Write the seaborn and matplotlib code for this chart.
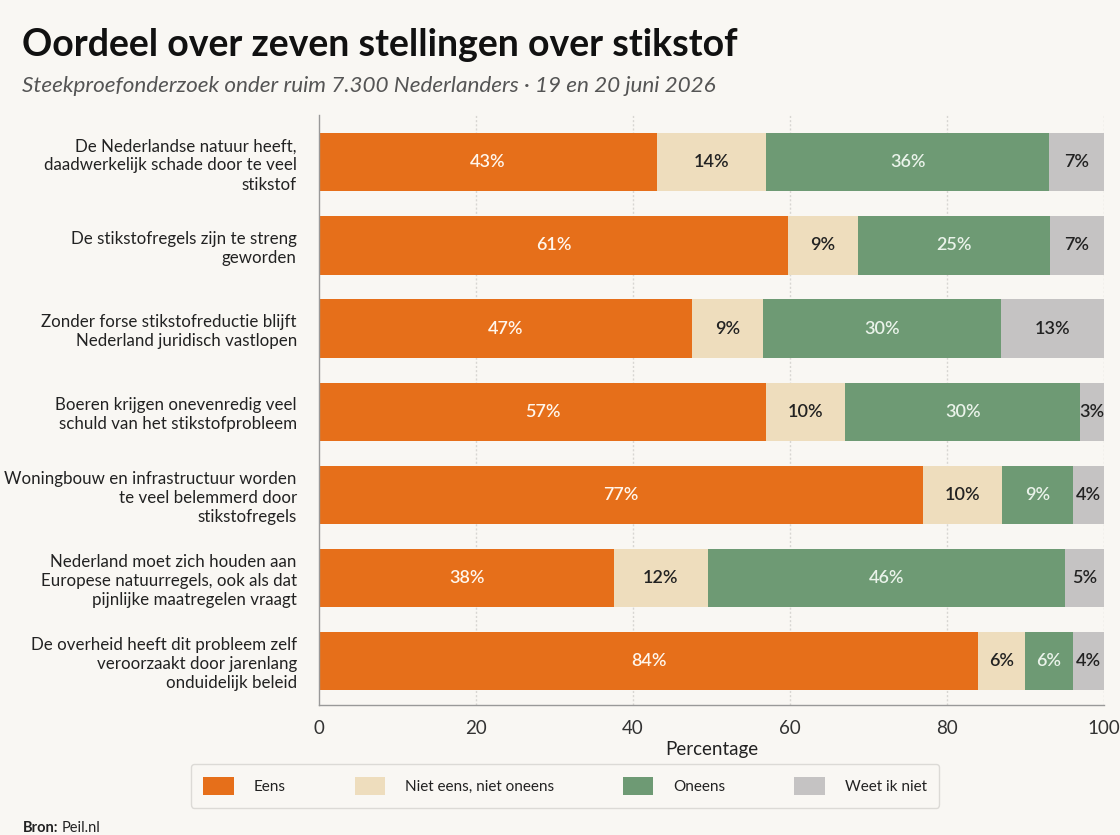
import numpy as np
import pandas as pd
import matplotlib
matplotlib.use("Agg")
import matplotlib.pyplot as plt
import seaborn as sns
from matplotlib.patches import Patch

# ---- data ----
statements = [
    "De Nederlandse natuur heeft,\ndaadwerkelijk schade door te veel\nstikstof",
    "De stikstofregels zijn te streng\ngeworden",
    "Zonder forse stikstofreductie blijft\nNederland juridisch vastlopen",
    "Boeren krijgen onevenredig veel\nschuld van het stikstofprobleem",
    "Woningbouw en infrastructuur worden\nte veel belemmerd door\nstikstofregels",
    "Nederland moet zich houden aan\nEuropese natuurregels, ook als dat\npijnlijke maatregelen vraagt",
    "De overheid heeft dit probleem zelf\nveroorzaakt door jarenlang\nonduidelijk beleid",
]
eens = [43, 61, 47, 57, 77, 38, 84]
neutraal = [14, 9, 9, 10, 10, 12, 6]
oneens = [36, 25, 30, 30, 9, 46, 6]
weet_niet = [7, 7, 13, 3, 4, 5, 4]
categories = ["Eens", "Niet eens, niet oneens", "Oneens", "Weet ik niet"]
x_ticks = [0, 20, 40, 60, 80, 100]

colors = ["#E66F1A", "#EEDDBD", "#6E9A74", "#C5C3C3"]
text_colors = ["#FFF6EC", "#222222", "#EAF3EA", "#222222"]
BG = "#F9F7F3"

df = pd.DataFrame({"stelling": statements, "Eens": eens,
                   "Niet eens, niet oneens": neutraal,
                   "Oneens": oneens, "Weet ik niet": weet_niet})
raw = df[categories].to_numpy(dtype=float)
share = raw / raw.sum(axis=1, keepdims=True) * 100
cum = np.cumsum(share, axis=1)

sns.set_theme(style="white")
plt.rcParams["font.family"] = ["Lato", "DejaVu Sans"]

fig = plt.figure(figsize=(11.2, 8.35), dpi=100, facecolor=BG)
ax = fig.add_axes([0.2848, 0.1557, 0.7009, 0.7066])
ax.set_facecolor(BG)

# vertical dotted grid
for t in x_ticks[1:]:
    ax.axvline(t, color="#D8D6D2", lw=1.0, ls=(0, (1.5, 1.5)), zorder=0)

# stacked bars: draw from the largest cumulative to the smallest
for j in range(len(categories) - 1, -1, -1):
    sns.barplot(x=cum[:, j], y=statements, color=colors[j], orient="h",
                width=0.7, ax=ax, saturation=1, zorder=2, linewidth=0)

# value labels
for i in range(len(statements)):
    left = 0
    for j in range(len(categories)):
        w = share[i, j]
        ax.text(left + w / 2, i, f"{int(raw[i, j])}%", ha="center", va="center",
                fontsize=13, color=text_colors[j], fontweight="semibold", zorder=3)
        left += w

ax.set_xlim(0, 100)
ax.set_ylim(6.53, -0.57)
ax.set_xticks(x_ticks)
ax.set_xticklabels([str(t) for t in x_ticks], fontsize=13.5, color="#333333")
ax.tick_params(axis="x", length=5, color="#999999", pad=6)
ax.tick_params(axis="y", length=0, pad=16, labelsize=12.2, labelcolor="#222222")
for lbl in ax.get_yticklabels():
    lbl.set_horizontalalignment("right")
    lbl.set_linespacing(1.25)
ax.set_xlabel("Percentage", fontsize=13.5, color="#222222", labelpad=3)
ax.set_ylabel("")
for s in ["top", "right"]:
    ax.spines[s].set_visible(False)
for s in ["left", "bottom"]:
    ax.spines[s].set_color("#999999")
    ax.spines[s].set_linewidth(1.0)

# title, subtitle
fig.text(0.02, 0.946, "Oordeel over zeven stellingen over stikstof", fontsize=27,
         fontweight="bold", color="#111111", ha="left", va="center")
fig.text(0.02, 0.897, "Steekproefonderzoek onder ruim 7.300 Nederlanders \u00b7 19 en 20 juni 2026",
         fontsize=16.2, style="italic", color="#555555", ha="left", va="center")

# legend
handles = [Patch(facecolor=c, edgecolor="none") for c in colors]
leg = fig.legend(handles, categories, loc="center", bbox_to_anchor=(0.5045, 0.0587),
                 ncol=4, frameon=True, fontsize=11, handlelength=2.0, handleheight=1.5,
                 columnspacing=4.5, handletextpad=1.3, borderpad=0.8,
                 facecolor=BG, edgecolor="#D5D3CF", fancybox=True)
for t in leg.get_texts():
    t.set_color("#222222")

# source
src = fig.text(0.02, 0.0, "Bron:", fontsize=10.5, color="#222222", fontweight="bold",
               ha="left", va="bottom")
fig.canvas.draw()
bb = src.get_window_extent()
fig.text((bb.x1 + 4) / fig.bbox.width, 0.0, "Peil.nl", fontsize=10.5, color="#222222",
         ha="left", va="bottom")

fig.savefig("out.png", dpi=100, facecolor=BG)
